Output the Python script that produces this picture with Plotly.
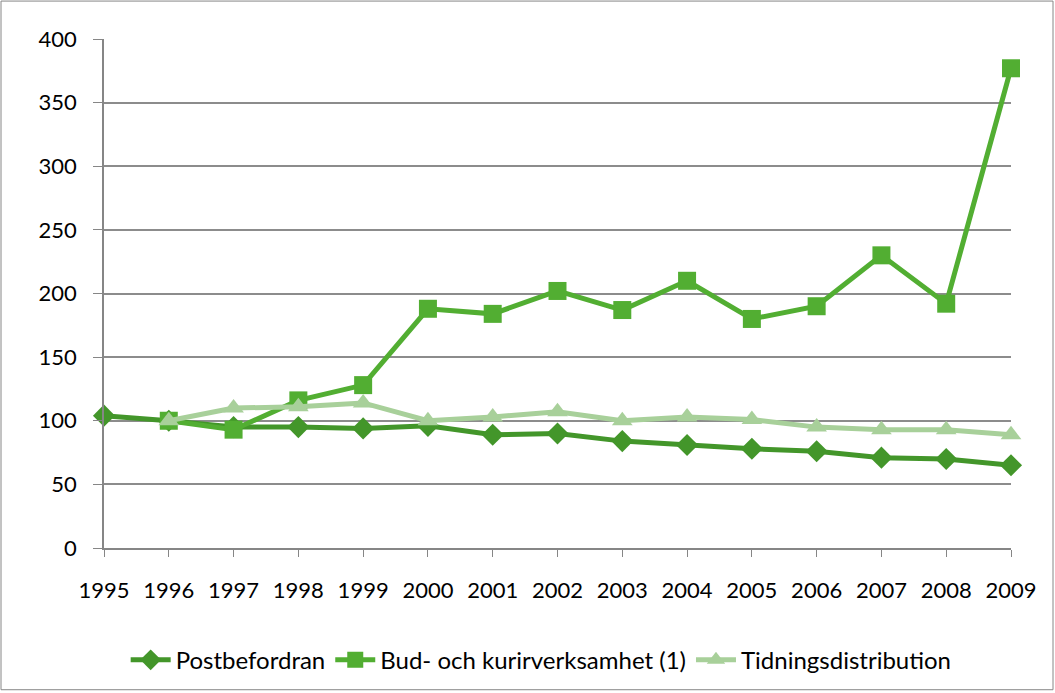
import plotly.graph_objects as go

years = list(range(1995, 2010))
post = [104, 100, 95, 95, 94, 96, 89, 90, 84, 81, 78, 76, 71, 70, 65]
bud_years = list(range(1996, 2010))
bud = [100, 93, 116, 128, 188, 184, 202, 187, 210, 180, 190, 230, 192, 377]
tid_years = list(range(1996, 2010))
tid = [100, 110, 111, 114, 100, 103, 107, 100, 103, 101, 95, 93, 93, 89]

names = ["Postbefordran", "Bud- och kurirverksamhet (1)", "Tidningsdistribution"]
colors = ["#43962A", "#52AE32", "#A8D09A"]

W, H = 1055, 693
L, R, T, B = 104, 44, 39, 144
pw, ph = W - L - R, H - T - B

fig = go.Figure()
fig.add_trace(go.Scatter(x=years, y=post, name=names[0], mode="lines+markers",
                         line=dict(color=colors[0], width=5),
                         marker=dict(symbol="diamond", size=17, color=colors[0]),
                         cliponaxis=False))
fig.add_trace(go.Scatter(x=bud_years, y=bud, name=names[1], mode="lines+markers",
                         line=dict(color=colors[1], width=5),
                         marker=dict(symbol="square", size=18, color=colors[1]),
                         cliponaxis=False))
fig.add_trace(go.Scatter(x=tid_years, y=tid, name=names[2], mode="lines+markers",
                         line=dict(color=colors[2], width=5),
                         marker=dict(symbol="triangle-up", size=18, color=colors[2]),
                         cliponaxis=False))

font = dict(family="Lato, Liberation Sans, sans-serif", size=22, color="#000000")
lfont = dict(family="Lato, Liberation Sans, sans-serif", size=24, color="#000000")

fig.update_layout(
    width=W, height=H,
    margin=dict(l=L, r=R, t=T, b=B),
    paper_bgcolor="white", plot_bgcolor="white",
    font=font,
    showlegend=True,
    legend=dict(orientation="h", x=0.482, xanchor="center", y=-0.218, yanchor="middle",
                font=lfont, itemwidth=40, traceorder="normal"),
    xaxis=dict(range=[1995, 2009], tickvals=years, ticktext=[str(y) for y in years],
               showgrid=False, showline=True, linecolor="#868686", linewidth=1.5,
               ticks="outside", ticklen=7, tickcolor="#868686", zeroline=False,
               ticklabelstandoff=15),
    yaxis=dict(range=[0, 400], tickvals=list(range(0, 401, 50)),
               showgrid=True, gridcolor="#8C8C8C", gridwidth=1.5,
               showline=True, linecolor="#868686", linewidth=1.5,
               ticks="outside", ticklen=9, tickcolor="#868686", zeroline=False,
               ticklabelstandoff=12),
    shapes=[dict(type="rect", xref="paper", yref="paper",
                 x0=(1 - L) / pw, x1=(W - 2 - L) / pw,
                 y0=-(H - 2 - T - ph) / ph, y1=(T - 1) / ph + 1,
                 line=dict(color="#868686", width=1))],
)

fig.write_html("out.html", config={"displayModeBar": False})
with open("out.html", "r", encoding="utf-8") as f:
    html = f.read()
html = html.replace("<head>", "<head><style>html,body{margin:0;padding:0;}</style>", 1)
with open("out.html", "w", encoding="utf-8") as f:
    f.write(html)
